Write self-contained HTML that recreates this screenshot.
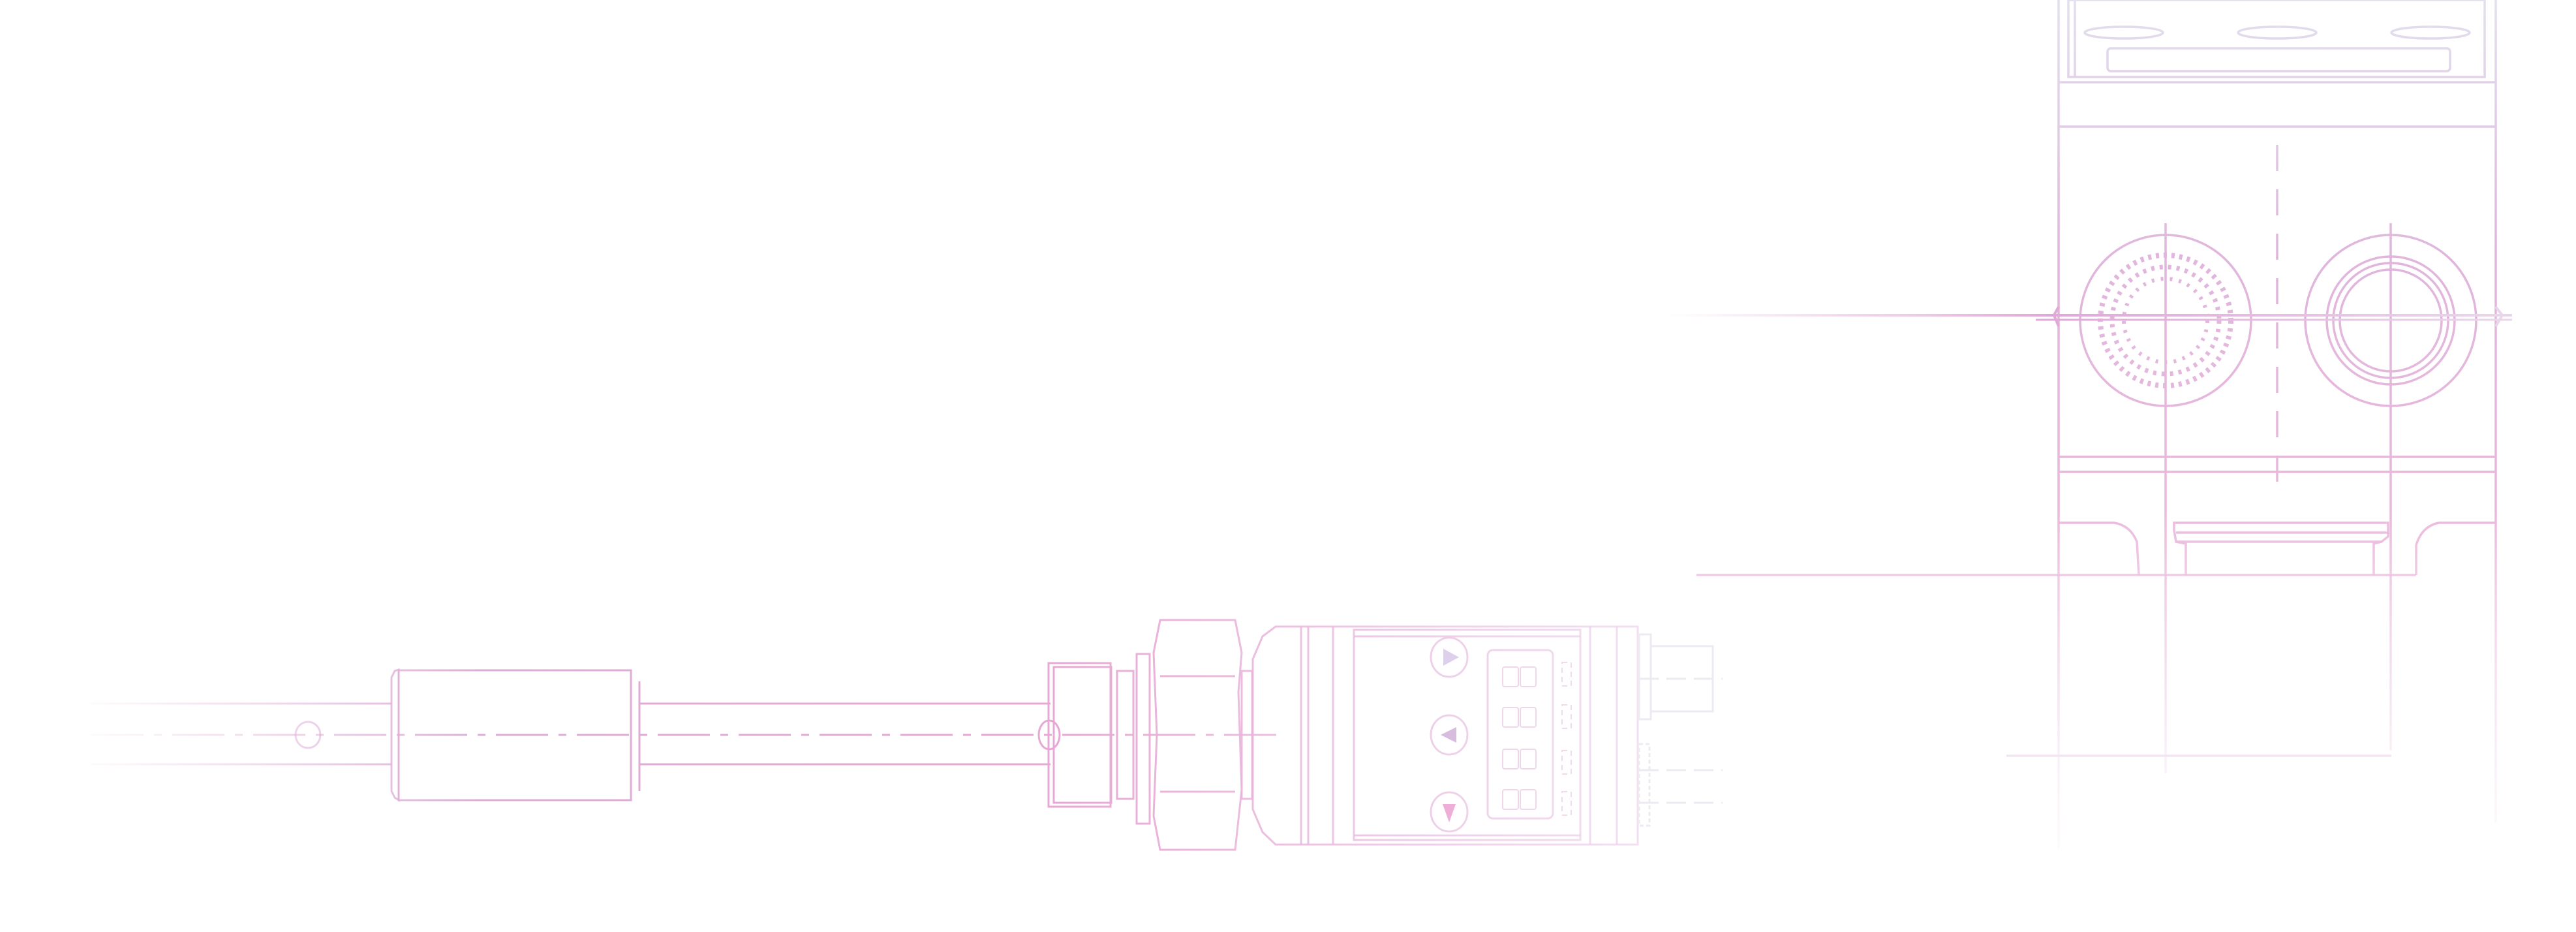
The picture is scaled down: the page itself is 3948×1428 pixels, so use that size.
<!DOCTYPE html>
<html><head><style>html,body{margin:0;padding:0;background:#fff;}svg{display:block}</style></head>
<body>
<svg width="3948" height="1428" viewBox="0 0 3948 1428" xmlns="http://www.w3.org/2000/svg" fill="none">
<defs>
<linearGradient id="gh" gradientUnits="userSpaceOnUse" x1="100" y1="0" x2="2650" y2="0">
<stop offset="0" stop-color="#e6b8da" stop-opacity="0"/><stop offset="0.25" stop-color="#dcaed8"/><stop offset="0.6" stop-color="#e8a8d4"/><stop offset="1" stop-color="#ead6ec" stop-opacity="0.6"/></linearGradient>
<linearGradient id="gr" gradientUnits="userSpaceOnUse" x1="0" y1="0" x2="0" y2="1300">
<stop offset="0" stop-color="#e2e0ee"/><stop offset="0.3" stop-color="#e0b6dc"/><stop offset="0.6" stop-color="#eab8dc"/><stop offset="1" stop-color="#f6eef6" stop-opacity="0.3"/></linearGradient>
<linearGradient id="gc" gradientUnits="userSpaceOnUse" x1="2550" y1="0" x2="3860" y2="0">
<stop offset="0" stop-color="#e6b6dc" stop-opacity="0"/><stop offset="0.45" stop-color="#e0a8d6"/><stop offset="1" stop-color="#e8d8ec"/></linearGradient>
</defs>

<!-- LEFT DEVICE -->
<g stroke="url(#gh)" stroke-width="3">
<line x1="140" y1="1078" x2="600" y2="1078"/><line x1="140" y1="1171" x2="600" y2="1171"/>
<line x1="980" y1="1078" x2="1610" y2="1078"/><line x1="980" y1="1171" x2="1610" y2="1171"/>
<line x1="140" y1="1126" x2="1960" y2="1126" stroke-dasharray="80 16 12 16"/>
<ellipse cx="472" cy="1126" rx="19" ry="20"/>
<path d="M600 1038 L605 1028 L611 1026 L611 1226 L605 1222 L600 1212 Z"/>
<rect x="611" y="1027" width="356" height="199"/>
<line x1="980" y1="1044" x2="980" y2="1212"/>
<ellipse cx="1608" cy="1126" rx="16" ry="22"/>
<rect x="1607" y="1016" width="95" height="220"/>
<rect x="1615" y="1022" width="88" height="208"/>
<rect x="1712" y="1028" width="25" height="196"/>
<rect x="1742" y="1002" width="20" height="260"/>
<path d="M1778 950 L1893 950 L1903 1000 L1898 1060 L1903 1210 L1893 1302 L1778 1302 L1768 1250 L1773 1126 L1768 1000 Z"/>
<line x1="1778" y1="1036" x2="1893" y2="1036"/><line x1="1778" y1="1213" x2="1893" y2="1213"/>
<rect x="1903" y="1028" width="16" height="196"/>
<path d="M1955 960 L2510 960 L2510 1294 L1955 1294 L1935 1275 L1920 1240 L1920 1010 L1935 975 Z"/>
<line x1="1994" y1="960" x2="1994" y2="1294"/><line x1="2005" y1="960" x2="2005" y2="1294"/><line x1="2043" y1="960" x2="2043" y2="1294"/>
<rect x="2075" y="965" width="347" height="322"/>
<line x1="2075" y1="975" x2="2422" y2="975"/><line x1="2075" y1="1280" x2="2422" y2="1280"/>
<line x1="2437" y1="960" x2="2437" y2="1294"/><line x1="2478" y1="960" x2="2478" y2="1294"/>
<ellipse cx="2221" cy="1007" rx="28" ry="30"/><ellipse cx="2221" cy="1126" rx="28" ry="30"/><ellipse cx="2221" cy="1244" rx="28" ry="30"/>
<rect x="2280" y="996" width="100" height="258" rx="8"/>
<g stroke-width="2">
<rect x="2303" y="1022" width="24" height="30" rx="3"/><rect x="2330" y="1022" width="24" height="30" rx="3"/>
<rect x="2303" y="1084" width="24" height="30" rx="3"/><rect x="2330" y="1084" width="24" height="30" rx="3"/>
<rect x="2303" y="1148" width="24" height="30" rx="3"/><rect x="2330" y="1148" width="24" height="30" rx="3"/>
<rect x="2303" y="1210" width="24" height="30" rx="3"/><rect x="2330" y="1210" width="24" height="30" rx="3"/>
<g stroke-dasharray="8 6"><rect x="2394" y="1015" width="14" height="36"/><rect x="2394" y="1080" width="14" height="36"/><rect x="2394" y="1150" width="14" height="36"/><rect x="2394" y="1213" width="14" height="36"/></g>
</g>
</g>
<path d="M2212 994 L2236 1007 L2212 1020 Z" fill="#dcd0ea"/>
<path d="M2232 1114 L2208 1126 L2232 1138 Z" fill="#d8bce0"/>
<path d="M2211 1232 L2231 1232 L2221 1260 Z" fill="#eeaed8"/>
<g stroke="#eeeaf2" stroke-width="3">
<rect x="2512" y="972" width="18" height="130"/>
<rect x="2530" y="990" width="95" height="100"/>
<line x1="2512" y1="1040" x2="2640" y2="1040" stroke-dasharray="30 12"/>
<rect x="2512" y="1140" width="16" height="125" stroke-dasharray="6 4"/>
<line x1="2512" y1="1180" x2="2640" y2="1180" stroke-dasharray="30 12"/>
<line x1="2512" y1="1230" x2="2640" y2="1230" stroke-dasharray="30 12"/>
</g>

<!-- RIGHT BLOCK -->
<g stroke="url(#gr)" stroke-width="3.5">
<line x1="3155" y1="0" x2="3155" y2="1300"/><line x1="3825" y1="0" x2="3825" y2="1260"/>
<rect x="3170" y="0" width="638" height="118"/>
<line x1="3180" y1="0" x2="3180" y2="118"/>
<rect x="3230" y="74" width="525" height="35" rx="5"/>
<ellipse cx="3255" cy="50" rx="60" ry="9"/><ellipse cx="3490" cy="50" rx="60" ry="9"/><ellipse cx="3725" cy="50" rx="60" ry="9"/>
<line x1="3155" y1="126" x2="3825" y2="126"/><line x1="3155" y1="194" x2="3825" y2="194"/>
<line x1="3155" y1="700" x2="3825" y2="700"/><line x1="3155" y1="723" x2="3825" y2="723"/>
<line x1="3490" y1="222" x2="3490" y2="740" stroke-dasharray="40 28"/>
<line x1="3319" y1="342" x2="3319" y2="1185"/><line x1="3664" y1="342" x2="3664" y2="1150"/>
<path d="M3155 801 L3240 801 Q3265 805 3275 830 L3278 881"/>
<path d="M3332 812 L3332 801 L3660 801 L3660 822 L3650 830 L3335 830 Z"/>
<line x1="3335" y1="816" x2="3660" y2="816"/>
<path d="M3335 830 L3350 833 L3350 881"/><path d="M3650 830 L3638 833 L3638 881"/>
<path d="M3825 801 L3738 801 Q3712 806 3703 835 L3703 881"/>
<line x1="2600" y1="881" x2="3703" y2="881"/>
<line x1="3075" y1="1158" x2="3665" y2="1158" stroke="#f2e6f2"/>
<circle cx="3319" cy="491" r="131"/>
<circle cx="3664" cy="491" r="131"/>
<circle cx="3664" cy="491" r="98"/><circle cx="3664" cy="491" r="88"/><circle cx="3664" cy="491" r="78"/>
<circle cx="3319" cy="491" r="100" stroke-dasharray="5 7" stroke-width="8"/>
<circle cx="3319" cy="491" r="82" stroke-dasharray="5 8" stroke-width="7"/>
<circle cx="3319" cy="491" r="64" stroke-dasharray="4 10" stroke-width="6"/>
</g>
<g stroke="url(#gc)" stroke-width="4">
<line x1="2556" y1="483" x2="3850" y2="483"/>
<line x1="3120" y1="490" x2="3850" y2="490" stroke-width="3"/>
<path d="M3155 470 L3148 483 L3155 500"/><path d="M3825 470 L3835 483 L3825 500"/>
</g>
</svg>
</body></html>
